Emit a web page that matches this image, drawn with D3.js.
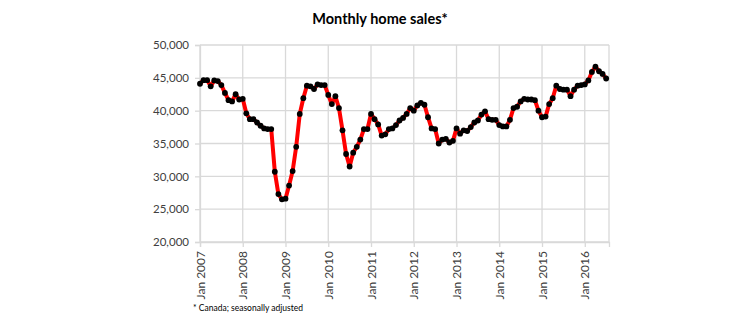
<!DOCTYPE html>
<html>
<head>
<meta charset="utf-8">
<script src="https://cdn.jsdelivr.net/npm/d3@7"></script>
<style>
  html, body { margin: 0; padding: 0; background: #fff; }
  svg { display: block; }
  text { font-family: Lato, "Open Sans", "Liberation Sans", sans-serif; }
</style>
</head>
<body>
<svg id="chart" width="750" height="330"></svg>
<script>
// ---- data ----
const startYear = 2007;
const sales = [
  // 2007
  44100, 44650, 44650, 43700, 44600, 44500, 43900, 42700, 41600, 41400, 42500, 41700,
  // 2008
  41800, 39600, 38700, 38700, 38200, 37700, 37300, 37200, 37200, 30700, 27300, 26500,
  // 2009
  26600, 28600, 30800, 34500, 39500, 41900, 43800, 43700, 43300, 44000, 43900, 43900,
  // 2010
  42400, 41000, 42200, 40400, 37000, 33400, 31500, 33600, 34500, 35600, 37200, 37200,
  // 2011
  39500, 38700, 37900, 36200, 36400, 37200, 37300, 37800, 38500, 38900, 39500, 40400,
  // 2012
  40000, 40800, 41200, 40900, 39000, 37300, 37200, 35000, 35600, 35700, 35150, 35400,
  // 2013
  37300, 36500, 37000, 36900, 37500, 38200, 38500, 39400, 39900, 38700, 38600, 38600,
  // 2014
  37800, 37600, 37600, 38600, 40400, 40600, 41400, 41800, 41700, 41700, 41600, 40000,
  // 2015
  39000, 39100, 41000, 41900, 43800, 43300, 43200, 43200, 42200, 43200, 43800, 43900,
  // 2016
  44000, 44600, 45900, 46700, 46000, 45600, 44900
];
const yTicks = [20000, 25000, 30000, 35000, 40000, 45000, 50000];
const xTickIdx = [0, 12, 24, 36, 48, 60, 72, 84, 96, 108];
const xTickLabels = ["Jan 2007", "Jan 2008", "Jan 2009", "Jan 2010", "Jan 2011",
                     "Jan 2012", "Jan 2013", "Jan 2014", "Jan 2015", "Jan 2016"];
const titleText = "Monthly home sales*";
const noteText = "* Canada; seasonally adjusted";

// ---- layout ----
(function () {
const svg = d3.select("#chart");
const pL = 200, pR = 609, pT = 45, pB = 242;
const x = d3.scaleLinear().domain([0, 114.8]).range([pL, pR]);
const y = d3.scaleLinear().domain([20000, 50000]).range([pB, pT]);
const gridColor = "#d9d9d9";
const textColor = "#404040";

// horizontal gridlines
svg.append("g").selectAll("line").data(yTicks).join("line")
  .attr("x1", pL).attr("x2", pR)
  .attr("y1", d => y(d)).attr("y2", d => y(d))
  .attr("stroke", gridColor).attr("stroke-width", 1.3);

// vertical gridlines
svg.append("g").selectAll("line").data(xTickIdx).join("line")
  .attr("x1", d => x(d)).attr("x2", d => x(d))
  .attr("y1", pT).attr("y2", pB)
  .attr("stroke", gridColor).attr("stroke-width", 1.3);

// right border
svg.append("line").attr("x1", pR).attr("x2", pR).attr("y1", pT).attr("y2", pB)
  .attr("stroke", gridColor).attr("stroke-width", 1.3);

// y axis
const yAxis = svg.append("g").attr("transform", `translate(${pL},0)`)
  .call(d3.axisLeft(y).tickValues(yTicks).tickSize(5).tickPadding(6)
        .tickFormat(d3.format(",")));
yAxis.select(".domain").attr("stroke", gridColor).attr("stroke-width", 1.3);
yAxis.selectAll(".tick line").attr("stroke", gridColor).attr("stroke-width", 1.3);
yAxis.selectAll("text").attr("fill", textColor).style("font-size", "11.5px");

// x axis
const xAxis = svg.append("g").attr("transform", `translate(0,${pB})`)
  .call(d3.axisBottom(x).tickValues(xTickIdx).tickSize(5)
        .tickFormat((d, i) => xTickLabels[i]));
xAxis.select(".domain").attr("stroke", gridColor).attr("stroke-width", 1.3);
xAxis.selectAll(".tick line").attr("stroke", gridColor).attr("stroke-width", 1.3);
xAxis.selectAll("text")
  .attr("fill", textColor).style("font-size", "12px")
  .attr("transform", "rotate(-90)")
  .attr("text-anchor", "end")
  .attr("x", -9).attr("y", 0).attr("dy", "0.35em");

// line
const line = d3.line().x((d, i) => x(i)).y(d => y(d));
svg.append("path").datum(sales)
  .attr("d", line)
  .attr("fill", "none")
  .attr("stroke", "#ff0000")
  .attr("stroke-width", 4)
  .attr("stroke-linejoin", "round");

// markers
svg.append("g").selectAll("circle").data(sales).join("circle")
  .attr("cx", (d, i) => x(i)).attr("cy", d => y(d))
  .attr("r", 2.9).attr("fill", "#000");

// title
svg.append("text").attr("x", 380).attr("y", 24)
  .attr("text-anchor", "middle")
  .attr("fill", "#000")
  .style("font-size", "14.5px").style("font-weight", "bold")
  .text(titleText);

// footnote
svg.append("text").attr("x", 193).attr("y", 311)
  .attr("fill", "#000")
  .style("font-size", "8.5px")
  .text(noteText);
})();
</script>
</body>
</html>
